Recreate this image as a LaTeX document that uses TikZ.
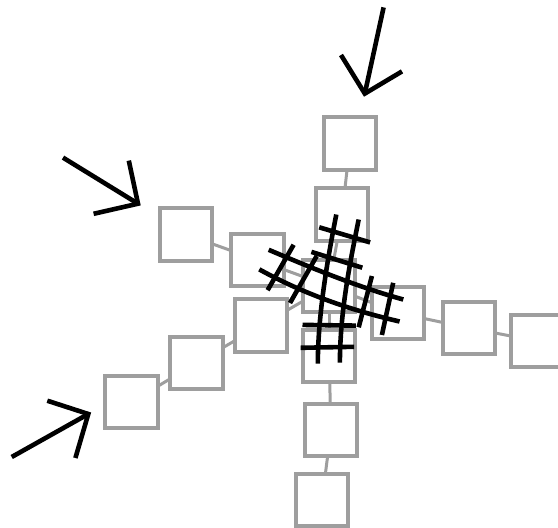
\documentclass[tikz,border=0pt]{standalone}
\definecolor{boxgray}{RGB}{158,158,158}
\tikzset{
  gbox/.style={draw=boxgray, fill=white, line width=4pt, minimum width=52.5pt, minimum height=52.5pt, inner sep=0pt, outer sep=0pt},
  glink/.style={draw=boxgray, line width=3pt},
  ink/.style={draw=black, line width=4.6pt, line cap=butt, line join=miter}
}
\begin{document}
\begin{tikzpicture}[x=1pt,y=-1pt]
\useasboundingbox (0,0) rectangle (558,528);
% connectors (drawn first, boxes on top)
\coordinate (cA1) at (350,143.6);
\coordinate (cA2) at (342,214.6);
\coordinate (cA3) at (329,286);
\coordinate (cB1) at (329,356);
\coordinate (cB2) at (331,430);
\coordinate (cB3) at (322,500);
\coordinate (cC1) at (398,313);
\coordinate (cC2) at (469,328);
\coordinate (cC3) at (537,341);
\coordinate (cD2) at (257.5,260);
\coordinate (cD1) at (186,234.5);
\coordinate (cE3) at (261,325.5);
\coordinate (cE2) at (196.5,363);
\coordinate (cE1) at (131.5,402);
% boxes
\node[gbox] (A1) at (cA1) {};
\node[gbox] (A2) at (cA2) {};
\node[gbox] (A3) at (cA3) {};
\node[gbox] (B1) at (cB1) {};
\node[gbox] (B2) at (cB2) {};
\node[gbox] (B3) at (cB3) {};
\node[gbox] (C1) at (cC1) {};
\node[gbox] (C2) at (cC2) {};
\node[gbox] (C3) at (cC3) {};
\node[gbox] (D2) at (cD2) {};
\node[gbox] (D1) at (cD1) {};
\node[gbox] (E3) at (cE3) {};
\node[gbox] (E2) at (cE2) {};
\node[gbox] (E1) at (cE1) {};
\draw[glink] (A1) -- (A2);
\draw[glink] (A2) -- (A3);
\draw[glink] (A3) -- (B1);
\draw[glink] (B1) -- (B2);
\draw[glink] (B2) -- (B3);
\draw[glink] (A3) -- (C1);
\draw[glink] (C1) -- (C2);
\draw[glink] (C2) -- (C3);
\draw[glink] (A3) -- (D2);
\draw[glink] (D2) -- (D1);
\draw[glink] (A3) -- (E3);
\draw[glink] (E3) -- (E2);
\draw[glink] (E2) -- (E1);
% vertical hatched pair
\coordinate (v1s) at (336.3,214.5); \coordinate (v1e) at (317.8,363.6);
\coordinate (v2s) at (358.7,219.5); \coordinate (v2e) at (339.9,362.6);
\draw[ink] (v1s) .. controls (327,262) and (318,315) .. (v1e);
\draw[ink] (v2s) .. controls (349,267) and (340,314) .. (v2e);
\coordinate (vt1a) at (319.2,227.3); \coordinate (vt1b) at (370.1,242.4);
\coordinate (vt2a) at (311.4,251.9); \coordinate (vt2b) at (362.3,267.7);
\coordinate (vt3a) at (302.5,324.9); \coordinate (vt3b) at (355.9,325.6);
\coordinate (vt4a) at (300.7,347.8); \coordinate (vt4b) at (354.1,346.8);
\draw[ink] (vt1a) -- (vt1b);
\draw[ink] (vt2a) -- (vt2b);
\draw[ink] (vt3a) -- (vt3b);
\draw[ink] (vt4a) -- (vt4b);
% horizontal hatched pair
\coordinate (h1s) at (268.7,249.8); \coordinate (h1e) at (403.3,299.5);
\coordinate (h2s) at (259.3,269.4); \coordinate (h2e) at (399.6,321.5);
\draw[ink] (h1s) .. controls (314,269) and (358,287) .. (h1e);
\draw[ink] (h2s) .. controls (304,294) and (350,310) .. (h2e);
\coordinate (ht1a) at (293.6,244.8); \coordinate (ht1b) at (267.6,290.2);
\coordinate (ht2a) at (316.7,256); \coordinate (ht2b) at (290,303);
\coordinate (ht3a) at (371.9,276); \coordinate (ht3b) at (358.7,327.3);
\coordinate (ht4a) at (393.2,282.8); \coordinate (ht4b) at (381.9,335);
\draw[ink] (ht1a) -- (ht1b);
\draw[ink] (ht2a) -- (ht2b);
\draw[ink] (ht3a) -- (ht3b);
\draw[ink] (ht4a) -- (ht4b);
% arrows
\coordinate (a1t) at (383.6,7.4); \coordinate (a1p) at (364.8,93.6);
\coordinate (a1l) at (341,55); \coordinate (a1r) at (402,71.4);
\draw[ink] (a1t) -- (a1p);
\draw[ink] (a1l) -- (a1p) -- (a1r);
\coordinate (a2t) at (63,157.6); \coordinate (a2p) at (138,203.7);
\coordinate (a2l) at (128.8,160.6); \coordinate (a2r) at (93.6,213.8);
\draw[ink] (a2t) -- (a2p);
\draw[ink] (a2l) -- (a2p) -- (a2r);
\coordinate (a3t) at (11.7,457); \coordinate (a3p) at (88.3,414);
\coordinate (a3l) at (47.3,400.7); \coordinate (a3r) at (75.4,458);
\draw[ink] (a3t) -- (a3p);
\draw[ink] (a3l) -- (a3p) -- (a3r);
\end{tikzpicture}
\end{document}
